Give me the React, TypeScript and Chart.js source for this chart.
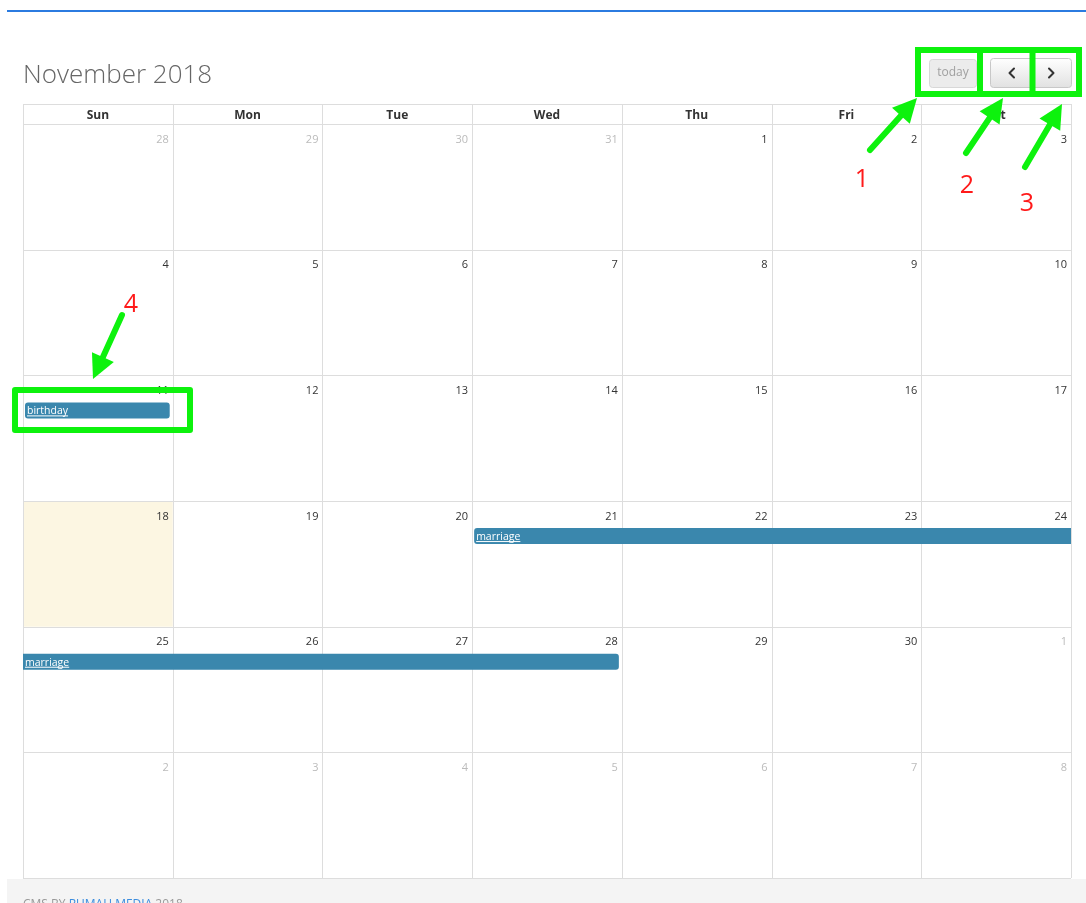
import React, { useEffect, useRef } from "react";
import { Chart, registerables } from "chart.js";

Chart.register(...registerables);

// ---------- data ----------
const TITLE = "November 2018";
const DAY_NAMES = ["Sun", "Mon", "Tue", "Wed", "Thu", "Fri", "Sat"];
const WEEK_DAYS: number[][] = [
  [28, 29, 30, 31, 1, 2, 3],
  [4, 5, 6, 7, 8, 9, 10],
  [11, 12, 13, 14, 15, 16, 17],
  [18, 19, 20, 21, 22, 23, 24],
  [25, 26, 27, 28, 29, 30, 1],
  [2, 3, 4, 5, 6, 7, 8],
];
// true = day belongs to another month
const OTHER_MONTH: boolean[][] = [
  [true, true, true, true, false, false, false],
  [false, false, false, false, false, false, false],
  [false, false, false, false, false, false, false],
  [false, false, false, false, false, false, false],
  [false, false, false, false, false, false, true],
  [true, true, true, true, true, true, true],
];
const TODAY_CELL = [3, 0]; // [week, weekday]
const EVENT_TITLES = ["birthday", "marriage", "marriage"];
const EVENT_WEEK = [2, 3, 4];
const EVENT_START = [0, 3, 0]; // weekday index
const EVENT_END = [1, 7, 4]; // exclusive weekday index
const EVENT_CONT_LEFT = [false, false, true];
const EVENT_CONT_RIGHT = [false, true, false];
const BUTTON_LABELS = ["today", "<", ">"];
const ANNOTATION_LABELS = ["1", "2", "3", "4"];
const FOOTER_PARTS = ["CMS BY ", "RUMAH MEDIA", " 2018"];

// ---------- style / layout constants ----------
const W = 1086;
const H = 903;
const EVENT_COLOR = "#3a87ad";
const GRID_COLOR = "#dddddd";
const GREEN = "#0df20d";
const RED = "#ff1a1a";
const EVENT_ROW_POS = 0.279; // fraction of a week row where event bars sit
const FONT = "'Open Sans', 'Noto Sans', sans-serif";

export default function App() {
  const ref = useRef<HTMLCanvasElement | null>(null);

  useEffect(() => {
    const canvas = ref.current;
    if (!canvas) return;

    const colW = (W - 15 - 23) / 7;
    const insetL = 2 / colW;
    const insetR = 3 / colW;

    const barData = EVENT_TITLES.map((_, i) => ({
      x: [
        EVENT_START[i] + (EVENT_CONT_LEFT[i] ? 0 : insetL),
        EVENT_END[i] - (EVENT_CONT_RIGHT[i] ? 0 : insetR),
      ],
      y: EVENT_WEEK[i] + EVENT_ROW_POS,
    }));

    const calendarPlugin = {
      id: "calendar",
      beforeDraw(chart: any) {
        const { ctx, scales } = chart;
        const xs = scales.x;
        const ys = scales.y;
        const px = (v: number) => xs.getPixelForValue(v);
        const py = (v: number) => ys.getPixelForValue(v);
        ctx.save();
        ctx.fillStyle = "#ffffff";
        ctx.fillRect(0, 0, W, H);

        // top blue line
        ctx.fillStyle = "#2b7be0";
        ctx.fillRect(7, 10, W - 7, 2);

        // title
        ctx.fillStyle = "#666666";
        ctx.font = `300 26px ${FONT}`;
        ctx.textBaseline = "alphabetic";
        ctx.textAlign = "left";
        ctx.fillText(TITLE, px(0), 83);

        // today highlight
        const [tw, td] = TODAY_CELL;
        ctx.fillStyle = "#fcf6e2";
        ctx.fillRect(px(td), py(tw), px(td + 1) - px(td), py(tw + 1) - py(tw));

        // grid
        const headerTop = 104;
        ctx.strokeStyle = GRID_COLOR;
        ctx.lineWidth = 1;
        ctx.beginPath();
        for (let d = 0; d <= 7; d++) {
          const x = Math.round(px(d)) + 0.5;
          ctx.moveTo(x, headerTop);
          ctx.lineTo(x, py(6));
        }
        ctx.moveTo(px(0), headerTop + 0.5);
        ctx.lineTo(px(7), headerTop + 0.5);
        for (let w = 0; w <= 6; w++) {
          const y = Math.round(py(w)) + 0.5;
          ctx.moveTo(px(0), y);
          ctx.lineTo(px(7), y);
        }
        ctx.stroke();

        // header names
        ctx.fillStyle = "#333333";
        ctx.font = `bold 12px ${FONT}`;
        ctx.textAlign = "center";
        ctx.textBaseline = "alphabetic";
        DAY_NAMES.forEach((n, d) => {
          ctx.fillText(n, (px(d) + px(d + 1)) / 2, 118.5);
        });

        // day numbers
        ctx.font = `11px ${FONT}`;
        ctx.textAlign = "right";
        ctx.textBaseline = "alphabetic";
        WEEK_DAYS.forEach((week, w) => {
          week.forEach((num, d) => {
            ctx.fillStyle = OTHER_MONTH[w][d] ? "#bbbbbb" : "#333333";
            ctx.fillText(String(num), px(d + 1) - 4, py(w) + 18.5);
          });
        });

        // footer
        ctx.fillStyle = "#f4f4f4";
        ctx.fillRect(7, 879, W - 7, H - 879);
        ctx.font = `12px ${FONT}`;
        ctx.textAlign = "left";
        let fx = 23;
        FOOTER_PARTS.forEach((p, i) => {
          ctx.fillStyle = i === 1 ? "#3c8dde" : "#999999";
          ctx.fillText(p, fx, 908);
          fx += ctx.measureText(p).width;
        });
        ctx.restore();
      },
      afterDatasetsDraw(chart: any) {
        const { ctx } = chart;
        const meta = chart.getDatasetMeta(0);
        ctx.save();
        // event labels
        ctx.font = `10.5px ${FONT}`;
        ctx.textAlign = "left";
        ctx.textBaseline = "alphabetic";
        ctx.fillStyle = "#ffffff";
        ctx.strokeStyle = "#ffffff";
        ctx.lineWidth = 1;
        meta.data.forEach((bar: any, i: number) => {
          const left = Math.min(bar.x, bar.base);
          const tx = left + 2;
          const ty = bar.y + 4;
          ctx.fillText(EVENT_TITLES[i], tx, ty);
          const tw = ctx.measureText(EVENT_TITLES[i]).width;
          ctx.beginPath();
          ctx.moveTo(tx, ty + 1.5);
          ctx.lineTo(tx + tw, ty + 1.5);
          ctx.stroke();
        });

        // buttons
        const rr = (x: number, y: number, w: number, h: number, r: number) => {
          ctx.beginPath();
          ctx.roundRect(x, y, w, h, r);
        };
        // today (disabled)
        rr(929.5, 59.5, 47, 28, 3);
        ctx.fillStyle = "#ececec";
        ctx.fill();
        ctx.strokeStyle = "#d8d8d8";
        ctx.stroke();
        ctx.fillStyle = "#a0a0a0";
        ctx.font = `12px ${FONT}`;
        ctx.textAlign = "center";
        ctx.textBaseline = "middle";
        ctx.fillText(BUTTON_LABELS[0], 953, 73);
        // prev / next
        const drawBtn = (x: number, w: number) => {
          const g = ctx.createLinearGradient(0, 58, 0, 87);
          g.addColorStop(0, "#ffffff");
          g.addColorStop(1, "#e2e2e2");
          rr(x + 0.5, 58.5, w, 29, 3);
          ctx.fillStyle = g;
          ctx.fill();
          ctx.strokeStyle = "#c8c8c8";
          ctx.stroke();
        };
        drawBtn(990, 44);
        drawBtn(1031, 40);
        ctx.strokeStyle = "#333333";
        ctx.lineWidth = 2;
        ctx.lineCap = "round";
        ctx.lineJoin = "round";
        // "<"
        ctx.beginPath();
        ctx.moveTo(1014, 68.5);
        ctx.lineTo(1009.5, 73);
        ctx.lineTo(1014, 77.5);
        ctx.stroke();
        // ">"
        ctx.beginPath();
        ctx.moveTo(1049, 68.5);
        ctx.lineTo(1053.5, 73);
        ctx.lineTo(1049, 77.5);
        ctx.stroke();

        // green annotation boxes
        ctx.strokeStyle = GREEN;
        ctx.lineWidth = 6;
        ctx.lineCap = "butt";
        ctx.lineJoin = "miter";
        ctx.strokeRect(918, 50, 1079 - 918, 44);
        ctx.beginPath();
        ctx.moveTo(980, 50);
        ctx.lineTo(980, 94);
        ctx.moveTo(1032.5, 50);
        ctx.lineTo(1032.5, 94);
        ctx.stroke();
        ctx.lineJoin = "round";
        ctx.strokeRect(15, 390, 175, 40);

        // arrows
        const arrow = (x1: number, y1: number, x2: number, y2: number) => {
          const ang = Math.atan2(y2 - y1, x2 - x1);
          const hl = 24;
          const hw = 12;
          const bx = x2 - hl * Math.cos(ang);
          const by = y2 - hl * Math.sin(ang);
          ctx.strokeStyle = GREEN;
          ctx.fillStyle = GREEN;
          ctx.lineWidth = 6;
          ctx.lineCap = "round";
          ctx.beginPath();
          ctx.moveTo(x1, y1);
          ctx.lineTo(bx + 4 * Math.cos(ang), by + 4 * Math.sin(ang));
          ctx.stroke();
          ctx.beginPath();
          ctx.moveTo(x2, y2);
          ctx.lineTo(bx + hw * Math.sin(ang), by - hw * Math.cos(ang));
          ctx.lineTo(bx - hw * Math.sin(ang), by + hw * Math.cos(ang));
          ctx.closePath();
          ctx.fill();
        };
        arrow(870, 150, 917, 98);
        arrow(966, 153, 1003, 98);
        arrow(1025, 167, 1062, 104);
        arrow(122, 315, 93, 379);

        // red numbers
        ctx.fillStyle = RED;
        ctx.font = `25px ${FONT}`;
        ctx.textAlign = "center";
        ctx.textBaseline = "alphabetic";
        const pos = [
          [862, 187],
          [967, 193],
          [1027, 211],
          [131, 312],
        ];
        ANNOTATION_LABELS.forEach((l, i) => {
          ctx.fillText(l, pos[i][0], pos[i][1]);
        });
        ctx.restore();
      },
    };

    const chart = new Chart(canvas, {
      type: "bar",
      data: {
        datasets: [
          {
            data: barData as any,
            backgroundColor: EVENT_COLOR,
            borderColor: EVENT_COLOR,
            borderWidth: 0,
            barThickness: 16,
            borderSkipped: false,
            inflateAmount: 0,
            borderRadius: (c: any) => {
              const i = c.dataIndex;
              const l = EVENT_CONT_LEFT[i] ? 0 : 3;
              const r = EVENT_CONT_RIGHT[i] ? 0 : 3;
              return { topLeft: l, bottomLeft: l, topRight: r, bottomRight: r };
            },
          } as any,
        ],
      },
      options: {
        indexAxis: "y",
        responsive: false,
        maintainAspectRatio: false,
        devicePixelRatio: 1,
        animation: false,
        events: [],
        layout: { padding: { left: 23, right: 15, top: 124, bottom: 25 } },
        plugins: {
          legend: { display: false },
          tooltip: { enabled: false },
          title: { display: false },
        },
        scales: {
          x: { type: "linear", min: 0, max: 7, display: false, offset: false },
          y: { type: "linear", min: 0, max: 6, reverse: true, display: false, offset: false },
        },
      } as any,
      plugins: [calendarPlugin],
    });
    return () => chart.destroy();
  }, []);

  return (
    <div style={{ position: "fixed", left: 0, top: 0, width: W, height: H }}>
      <canvas ref={ref} width={W} height={H} style={{ display: "block", width: W, height: H }} />
    </div>
  );
}
